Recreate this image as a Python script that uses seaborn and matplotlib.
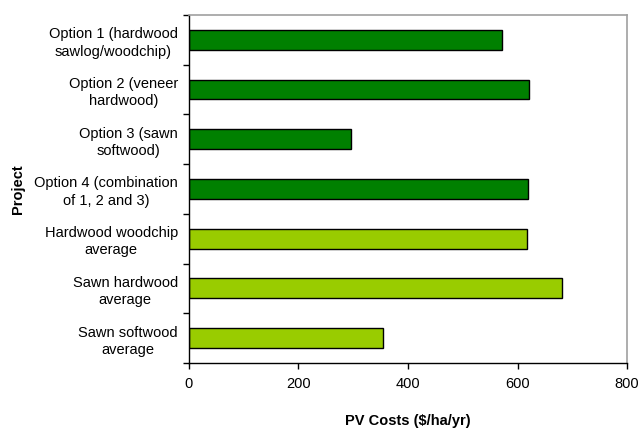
import pandas as pd
import numpy as np
import matplotlib
matplotlib.use("Agg")
import matplotlib.pyplot as plt
import seaborn as sns

# 数据
projects = [
    "Option 1 (hardwood\nsawlog/woodchip)",
    "Option 2 (veneer\nhardwood)",
    "Option 3 (sawn\nsoftwood)",
    "Option 4 (combination\nof 1, 2 and 3)",
    "Hardwood woodchip\naverage",
    "Sawn hardwood\naverage",
    "Sawn softwood\naverage",
]
pv_costs = [572, 621, 295, 620, 618, 682, 354]
bar_colors = ["#008000", "#008000", "#008000", "#008000",
              "#99CC00", "#99CC00", "#99CC00"]

df = pd.DataFrame({"Project": projects, "PV": pv_costs})

sns.set_style("white")
plt.rcParams['font.family'] = ['Liberation Sans', 'DejaVu Sans']
plt.rcParams['text.color'] = 'black'
plt.rcParams['xtick.color'] = 'black'
plt.rcParams['ytick.color'] = 'black'
plt.rcParams['axes.labelcolor'] = 'black'

fig = plt.figure(figsize=(6.4, 4.28), dpi=100)
ax = fig.add_axes([0.2953, 0.1519, 0.6844, 0.8131])

sns.barplot(data=df, y="Project", x="PV", hue="Project", palette=bar_colors,
            orient="h", width=0.4, edgecolor="black", linewidth=1,
            saturation=1, legend=False, ax=ax)

ax.set_xlim(0, 800)
ax.set_ylim(6.5, -0.5)
ax.set_xticks([0, 200, 400, 600, 800])
ax.tick_params(axis="x", direction="out", length=4, width=1,
               labelsize=10.5, pad=6, bottom=True)

# y 轴刻度线放在类别边界
ax.set_yticks(np.arange(-0.5, 7, 1), minor=True)
ax.tick_params(axis="y", which="minor", direction="out", length=4, width=1,
               left=True)
ax.tick_params(axis="y", which="major", length=0, labelsize=10.5, pad=8)
for lbl in ax.get_yticklabels():
    lbl.set_horizontalalignment("right")
    lbl.set_multialignment("center")
    lbl.set_linespacing(1.3)

for side in ["left", "bottom"]:
    ax.spines[side].set_color("black")
    ax.spines[side].set_linewidth(1)
for side in ["top", "right"]:
    ax.spines[side].set_visible(True)
    ax.spines[side].set_color("#a0a0a0")
    ax.spines[side].set_linewidth(1.2)

ax.set_xlabel("PV Costs ($/ha/yr)", fontsize=10.5, weight="bold")
ax.xaxis.set_label_coords(0.5, -0.148)
ax.set_ylabel("Project", fontsize=10.5, weight="bold")
ax.yaxis.set_label_coords(-0.375, 0.5)

fig.savefig("out.png", dpi=100)
